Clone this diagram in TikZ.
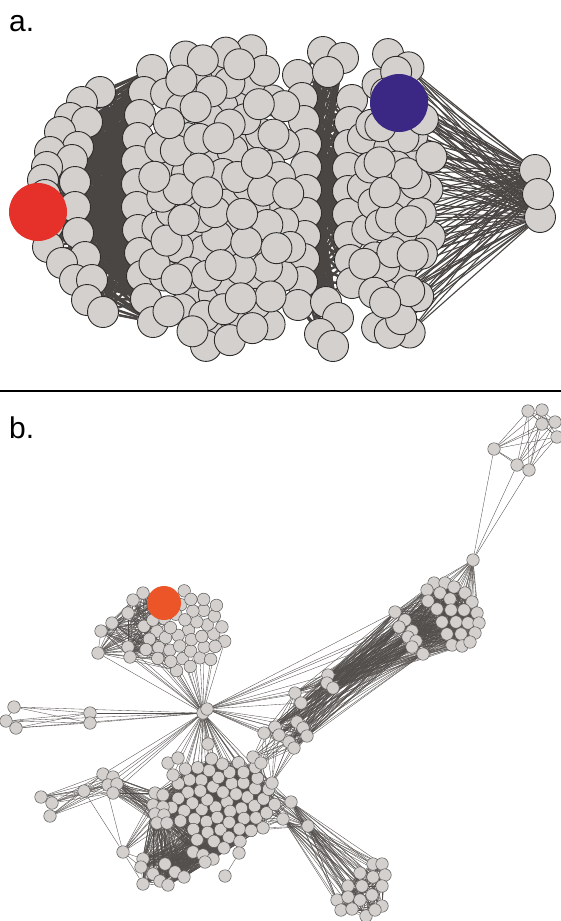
\documentclass[tikz,border=0pt]{standalone}
\usepackage{fontspec}
\setmainfont{Liberation Sans}
\usetikzlibrary{backgrounds}
\definecolor{nodegray}{HTML}{D3D0CE}
\definecolor{rimgray}{HTML}{2E2C2B}
\definecolor{bandgray}{HTML}{4A4643}
\definecolor{linkgray}{HTML}{524E4B}
\definecolor{hubred}{HTML}{E5312A}
\definecolor{hubblue}{HTML}{3A2884}
\definecolor{huborange}{HTML}{EB5528}
\tikzset{
	anode/.style={
			circle,
			draw=rimgray,
			fill=nodegray,
			line width=0.9pt,
			minimum size=31pt,
			inner sep=0pt
		},
	abignode/.style={
			anode,
			draw=none,
			minimum size=58pt
		},
	bnode/.style={
			circle,
			draw=rimgray!80,
			fill=nodegray,
			line width=0.5pt,
			minimum size=12.5pt,
			inner sep=0pt
		},
	bbignode/.style={
			bnode,
			draw=none,
			fill=huborange,
			minimum size=34pt
		},
	aedge/.style={
			draw=bandgray,
			line width=2.5pt
		},
	afan/.style={
			draw=bandgray,
			line width=1.1pt
		},
	bedge/.style={
			draw=linkgray,
			line width=0.35pt
		},
	paneltag/.style={
			anchor=base west,
			inner sep=0pt,
			font=\fontsize{30}{30}\selectfont
		}
}

\begin{document}
\begin{tikzpicture}[x=1pt,y=-1pt,
  declare function={
    sfr(\k,\n)=sqrt((\k+0.5)/\n);
    sft(\k)=10*mod(13.7508*\k,36);
    sqf(\t)=(abs(cos(\t))^3+abs(sin(\t))^3)^(-1/3);
    amx(\k)=222+70*sfr(\k,100)*sqf(sft(\k))*cos(sft(\k));
    amy(\k)=198+152*sfr(\k,100)*sqf(sft(\k))*sin(sft(\k));
    arx(\k)=396+38*sfr(\k,50)*cos(sft(\k));
    ary(\k)=200+150*sfr(\k,50)*sin(sft(\k));
    bux(\k)=184+43*sfr(\k,44)*cos(sft(\k));
    buy(\k)=630+43*sfr(\k,44)*sin(sft(\k));
    bcx(\k)=222+53*sfr(\k,56)*cos(sft(\k));
    bcy(\k)=802+47*sfr(\k,56)*sin(sft(\k));
  }]
\useasboundingbox (0,0) rectangle (561,921);

\node[paneltag] (tag-a) at (9,31) {a.};
\node[paneltag] (tag-b) at (9,438) {b.};
\coordinate (sep-l) at (0,391);
\coordinate (sep-r) at (561,391);
\draw[line width=1.8pt] (sep-l) -- (sep-r);

% ---- a. ----
\foreach \x/\y [count=\i] in {100/92, 82/102, 70/118, 87/122, 60/132, 78/147, 50/152, 72/160,
  47/167, 43/180, 75/182, 45/195, 75/207, 48/225, 78/233, 48/247, 85/257, 62/263,
  75/280, 92/280, 87/300, 103/312}
  \node[anode] (al-\i) at (\x,\y) {};
\node[abignode, fill=hubred] (ared) at (38,212) {};

\foreach \x/\y [count=\i] in {152/70, 144/92, 140/115, 138/138, 137/161, 137/184, 137/207,
  138/230, 140/253, 142/276, 146/299, 153/322}
  \node[anode] (ml-\i) at (\x,\y) {};
\foreach \x/\y [count=\i] in {298/75, 302/98, 304/121, 306/144, 306/167, 306/190, 306/213,
  305/236, 304/259, 302/282, 298/305}
  \node[anode] (mr-\i) at (\x,\y) {};
\foreach \j in {0,...,99}{
  \pgfmathtruncatemacro\k{mod(\j*37,100)}
  \node[anode] (am-\k) at ({amx(\k)},{amy(\k)}) {};
}
\foreach \x/\y [count=\i] in {352/100, 350/122, 349/145, 348/168, 348/191, 348/214, 349/237,
  350/260, 352/283}
  \node[anode] (rl-\i) at (\x,\y) {};
\foreach \x/\y [count=\i] in {323/52, 343/58, 328/72, 326/302, 338/318, 320/334, 333/346}
  \node[anode] (ae-\i) at (\x,\y) {};
\foreach \j in {0,...,49}{
  \pgfmathtruncatemacro\k{mod(\j*23,50)}
  \node[anode] (ar-\k) at ({arx(\k)},{ary(\k)}) {};
}
\node[abignode, fill=hubblue] (ablue) at (399,103) {};
\node[anode] (at-1) at (535,170) {};
\node[anode] (at-3) at (540,217) {};
\node[anode] (at-2) at (538,194) {};

% ---- b. ----
\foreach \x/\y [count=\i] in {528/411, 542/410, 542/424, 555/422, 557/437, 494/449, 517/465, 529/470}
  \node[bnode] (bt-\i) at (\x,\y) {};
\node[bnode] (bl) at (473,560) {};
\foreach \x/\y [count=\i] in {434/583, 445/583, 427/590, 440/593, 454/587, 465/593, 428/601, 450/599,
  472/602, 437/609, 451/610, 464/610, 477/613, 442/622, 456/622, 468/623, 479/623, 447/634,
  461/634, 475/633, 452/645, 462/646, 470/642,
  395/612, 405/620, 399/627, 412/631, 408/637, 416/641, 412/647, 423/654}
  \node[bnode] (bq-\i) at (\x,\y) {};
\foreach \x/\y [count=\i] in {328/675, 327/683, 333/688, 295/693, 301/703, 297/722, 275/727,
  264/733, 279/735, 303/728, 307/736, 289/742, 294/748}
  \node[bnode] (bm-\i) at (\x,\y) {};

\foreach \j in {0,...,43}{
  \pgfmathtruncatemacro\k{mod(\j*21,44)}
  \node[bnode] (bu-\k) at ({bux(\k)},{buy(\k)}) {};
}
\node[bbignode] (bo) at (164,603) {};
\foreach \x/\y [count=\i] in {143/593, 133/600, 128/613, 112/623, 101/631, 98/653, 128/647, 130/657}
  \node[bnode] (bg-\i) at (\x,\y) {};

\node[bnode] (bh-1) at (203,713) {};
\node[bnode] (bh-2) at (207,709) {};
\foreach \x/\y [count=\i] in {14/707, 6/721, 16/728, 90/713, 90/723}
  \node[bnode] (bf-\i) at (\x,\y) {};

\foreach \j in {0,...,55}{
  \pgfmathtruncatemacro\k{mod(\j*25,56)}
  \node[bnode] (bc-\k) at ({bcx(\k)},{bcy(\k)}) {};
}
\foreach \x/\y [count=\i] in {168/763, 178/758, 173/775, 208/744, 253/757, 261/763, 272/783,
  291/802, 283/819, 308/826, 239/853, 225/876, 155/793, 163/795, 153/805, 163/807,
  155/814, 164/815, 157/823, 167/823}
  \node[bnode] (bx-\i) at (\x,\y) {};
\foreach \x/\y [count=\i] in {103/774, 113/777, 108/785, 117/784, 113/793, 84/791, 41/797, 52/803,
  50/816, 123/852, 143/859, 141/867, 165/864, 175/872, 184/877, 153/874, 160/881,
  143/884, 168/885, 193/852, 203/855, 213/859, 205/862}
  \node[bnode] (bw-\i) at (\x,\y) {};
\foreach \x/\y [count=\i] in {373/864, 382/864, 360/873, 373/877, 385/875, 348/886, 362/886,
  372/895, 382/886, 337/900, 348/897, 360/900, 382/906, 341/910, 352/909, 366/916, 375/910}
  \node[bnode] (bb-\i) at (\x,\y) {};

\begin{scope}[on background layer]
% a. bands
\foreach \i in {1,...,22}{\foreach \j in {1,...,12}{\draw[aedge] (al-\i) -- (ml-\j);}}
\foreach \j in {1,...,12}{\draw[aedge] (ared) -- (ml-\j);}
\foreach \i in {1,...,11}{
  \foreach \j in {1,...,9}{\draw[aedge] (mr-\i) -- (rl-\j);}
  \foreach \e in {1,...,7}{\draw[aedge] (mr-\i) -- (ae-\e);}
}
\foreach \q in {0,...,49}{
  \pgfmathtruncatemacro\ok{arx(\q)>385}
  \ifnum\ok=1 \foreach \w in {1,2,3}{\draw[afan] (ar-\q) -- (at-\w);} \fi
}
\foreach \w in {1,2,3}{\draw[afan] (ablue) -- (at-\w);}

% b. top right
\foreach \i in {1,...,7}{
  \pgfmathtruncatemacro\nx{\i+1}
  \foreach \j in {\nx,...,8}{\draw[bedge] (bt-\i) -- (bt-\j);}
}
\foreach \i in {6,7,8}{\draw[bedge] (bt-\i) -- (bl);}
\foreach \i in {1,...,23}{\draw[bedge] (bl) -- (bq-\i);}
\foreach \i in {1,...,30}{
  \pgfmathtruncatemacro\nx{\i+1}
  \foreach \j in {\nx,...,31}{\draw[bedge] (bq-\i) -- (bq-\j);}
}
\foreach \i in {1,...,31}{\foreach \j in {1,2,3}{\draw[bedge] (bq-\i) -- (bm-\j);}}
\foreach \i in {24,...,31}{\foreach \j in {4,...,13}{\draw[bedge] (bq-\i) -- (bm-\j);}}
\foreach \i in {1,...,12}{
  \pgfmathtruncatemacro\nx{\i+1}
  \foreach \j in {\nx,...,13}{\draw[bedge] (bm-\i) -- (bm-\j);}
}
\foreach \j in {1,...,13}{\draw[bedge] (bh-2) -- (bm-\j);}
\foreach \j in {24,25,26,27}{\draw[bedge] (bh-2) -- (bq-\j);}

% b. upper left
\foreach \k in {0,...,43}{
  \pgfmathtruncatemacro\ok{bux(\k)<178}
  \ifnum\ok=1 \foreach \i in {1,...,8}{\draw[bedge] (bg-\i) -- (bu-\k);} \fi
  \pgfmathtruncatemacro\okh{buy(\k)>638}
  \ifnum\okh=1 \draw[bedge] (bh-1) -- (bu-\k); \fi
}
\foreach \i in {1,...,7}{
  \pgfmathtruncatemacro\nx{\i+1}
  \foreach \j in {\nx,...,8}{\draw[bedge] (bg-\i) -- (bg-\j);}
}
\foreach \i in {5,...,8}{\draw[bedge] (bh-1) -- (bg-\i);}

% b. far left
\foreach \i in {1,2,3}{
  \foreach \j in {4,5}{\draw[bedge] (bf-\i) -- (bf-\j);}
  \draw[bedge] (bf-\i) -- (bh-1);
}
\draw[bedge] (bf-1) -- (bf-2) -- (bf-3);
\foreach \i in {4,5}{\draw[bedge] (bf-\i) -- (bh-1);}

% b. lower cluster
\foreach \i in {0,...,54}{
  \pgfmathtruncatemacro\nx{\i+1}
  \foreach \j in {\nx,...,55}{\draw[bedge] (bc-\i) -- (bc-\j);}
}
\foreach \k in {0,...,55}{
  \pgfmathtruncatemacro\ok{bcy(\k)<800}
  \ifnum\ok=1 \draw[bedge] (bh-1) -- (bc-\k); \fi
  \pgfmathtruncatemacro\okl{bcx(\k)<212}
  \ifnum\okl=1 \foreach \i in {13,...,20}{\draw[bedge] (bx-\i) -- (bc-\k);} \fi
  \pgfmathtruncatemacro\okr{bcx(\k)>242}
  \ifnum\okr=1 \foreach \i in {5,...,10}{\draw[bedge] (bx-\i) -- (bc-\k);} \fi
  \pgfmathtruncatemacro\okb{bcy(\k)>815}
  \ifnum\okb=1 \foreach \i in {11,...,23}{\draw[bedge] (bw-\i) -- (bc-\k);} \fi
}
\foreach \i in {1,...,4}{\draw[bedge] (bh-1) -- (bx-\i);}
\foreach \i in {5,6,7}{\foreach \j in {6,...,13}{\draw[bedge] (bx-\i) -- (bm-\j);}}
\draw[bedge] (bx-11) -- (bx-12);

% b. lower left
\foreach \i in {1,...,5}{
  \pgfmathtruncatemacro\nx{\i+1}
  \foreach \j in {\nx,...,6}{\draw[bedge] (bw-\i) -- (bw-\j);}
  \foreach \j in {7,8,9}{\draw[bedge] (bw-\i) -- (bw-\j);}
  \draw[bedge] (bh-1) -- (bw-\i);
  \foreach \j in {13,...,20}{\draw[bedge] (bw-\i) -- (bx-\j);}
}
\foreach \j in {7,8,9}{\draw[bedge] (bw-6) -- (bw-\j);}
\draw[bedge] (bw-7) -- (bw-8) -- (bw-9);
\foreach \j in {1,6,11,12,18}{\draw[bedge] (bw-10) -- (bw-\j);}
\foreach \j in {13,...,20}{\draw[bedge] (bw-10) -- (bx-\j);}
\foreach \i in {11,...,22}{
  \pgfmathtruncatemacro\nx{\i+1}
  \foreach \j in {\nx,...,23}{\draw[bedge] (bw-\i) -- (bw-\j);}
  \foreach \j in {13,...,20}{\draw[bedge] (bw-\i) -- (bx-\j);}
}

% b. bottom right
\foreach \i in {1,...,16}{
  \pgfmathtruncatemacro\nx{\i+1}
  \foreach \j in {\nx,...,17}{\draw[bedge] (bb-\i) -- (bb-\j);}
}
\foreach \i in {8,9,10}{\foreach \j in {1,...,17}{\draw[bedge] (bx-\i) -- (bb-\j);}}
\end{scope}

\end{tikzpicture}
\end{document}
